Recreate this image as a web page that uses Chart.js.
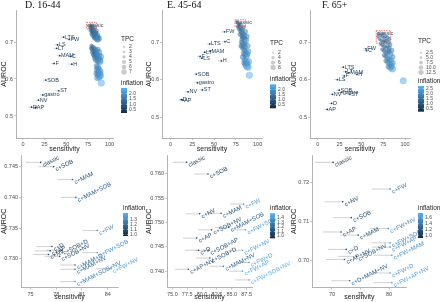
<!DOCTYPE html>
<html>
<head>
<meta charset="utf-8">
<script src="https://cdn.jsdelivr.net/npm/chart.js@4.4.1/dist/chart.umd.min.js"></script>
<style>
  html, body { margin: 0; padding: 0; background: #fff; }
  #wrap { position: relative; width: 440px; height: 302px; overflow: hidden; }
  .pane { position: absolute; }
  .pane canvas { display: block; }
  .ttl { position: absolute; font-family: "Liberation Serif", "DejaVu Serif", serif; font-size: 10px; line-height: 10px; color: #111; white-space: nowrap; }
</style>
</head>
<body>
<div id="wrap">
  <div class="pane" style="left:0;top:0;width:146px;height:156px"><canvas id="topD"></canvas></div>
  <div class="pane" style="left:145px;top:0;width:146px;height:156px"><canvas id="topE"></canvas></div>
  <div class="pane" style="left:290px;top:0;width:150px;height:156px"><canvas id="topF"></canvas></div>
  <div class="pane" style="left:0;top:150px;width:146px;height:152px"><canvas id="botD"></canvas></div>
  <div class="pane" style="left:145px;top:150px;width:146px;height:152px"><canvas id="botE"></canvas></div>
  <div class="pane" style="left:290px;top:150px;width:150px;height:152px"><canvas id="botF"></canvas></div>
  <div class="ttl" style="left:25px;top:0">D. 16-44</div>
  <div class="ttl" style="left:167px;top:0">E. 45-64</div>
  <div class="ttl" style="left:322px;top:0">F. 65+</div>
</div>
<script>
// ---------- top row : single tests ----------
const testsD = ['LTS', 'FW', 'LS', 'LT', 'MAM', 'C', 'F', 'H', 'SOB', 'ST', 'gastro', 'NV', 'D', 'AP'];
const testSensD = [47, 53.5, 40, 39, 42.5, 55, 36, 56.5, 26.5, 41.5, 23, 18, 10, 14.5];
const testAurocD = [0.713, 0.707, 0.692, 0.683, 0.663, 0.661, 0.642, 0.640, 0.597, 0.568, 0.557, 0.543, 0.524, 0.523];
const testInflD = [0.6, 0.7, 0.5, 0.5, 0.6, 0.7, 0.5, 0.6, 0.4, 0.5, 0.4, 0.4, 0.3, 0.3];

const testsE = ['FW', 'C', 'LTS', 'LT', 'MAM', 'F', 'LS', 'H', 'SOB', 'gastro', 'ST', 'NV', 'D', 'AP'];
const testSensE = [62, 62.5, 45, 39.3, 45.4, 34, 36, 58.4, 29.7, 31, 36.6, 20.2, 12.5, 14.2];
const testAurocE = [0.727, 0.701, 0.695, 0.673, 0.675, 0.662, 0.657, 0.650, 0.615, 0.592, 0.573, 0.568, 0.547, 0.546];
const testInflE = [0.7, 0.7, 0.6, 0.5, 0.6, 0.5, 0.5, 0.6, 0.4, 0.4, 0.5, 0.3, 0.3, 0.3];

const testsF = ['FW', 'C', 'LTS', 'LT', 'MAM', 'H', 'F', 'LS', 'SOB', 'gastro', 'NV', 'ST', 'D', 'AP'];
const testSensF = [55.3, 56, 29.5, 32.2, 35.8, 45, 30.5, 22.7, 24.7, 27.5, 17, 37, 16, 11];
const testAurocF = [0.682, 0.677, 0.633, 0.621, 0.618, 0.614, 0.610, 0.600, 0.572, 0.566, 0.561, 0.561, 0.537, 0.521];
const testInflF = [0.7, 0.7, 0.5, 0.5, 0.6, 0.6, 0.5, 0.4, 0.4, 0.4, 0.3, 0.5, 0.3, 0.3];

// ---------- top row : combinations (blue cloud) ----------
const clusterSensD = [77, 78.5, 80, 81.5, 79, 80.5, 82, 83.5, 81, 82.5, 84, 85.5, 83, 84.5, 86, 87, 78, 79.5,
  77.5, 79, 80.5, 82, 84, 86, 87.5, 85, 80, 82.5,
  79, 80.5, 82, 83.5, 80, 81.5, 83, 84.5, 86, 82, 84, 85.5, 87, 88.5, 86.5, 89, 85, 87.5,
  78.5, 80, 81.5, 83, 86.5, 88, 89.5, 84.5,
  85, 86.5, 87.5, 85.5, 87, 88.5, 86.5, 88, 89, 84.5, 89.5, 86, 90.5];
const clusterAurocD = [0.745, 0.742, 0.739, 0.735, 0.736, 0.732, 0.728, 0.724, 0.726, 0.721, 0.717, 0.713, 0.714, 0.710, 0.707, 0.712, 0.731, 0.727,
  0.738, 0.722, 0.718, 0.712, 0.724, 0.719, 0.709, 0.730, 0.745, 0.739,
  0.690, 0.687, 0.684, 0.680, 0.680, 0.676, 0.672, 0.668, 0.664, 0.667, 0.662, 0.658, 0.655, 0.651, 0.649, 0.647, 0.675, 0.662,
  0.683, 0.672, 0.664, 0.657, 0.680, 0.672, 0.660, 0.652,
  0.636, 0.632, 0.627, 0.625, 0.619, 0.614, 0.611, 0.606, 0.620, 0.615, 0.609, 0.603, 0.589];
const clusterTpcD = [2, 3, 3, 3, 4, 4, 4, 5, 4, 5, 5, 6, 5, 6, 6, 5, 3, 3,
  3, 3, 4, 4, 5, 5, 6, 4, 3, 4,
  3, 4, 4, 5, 4, 4, 5, 5, 6, 5, 5, 6, 6, 7, 6, 7, 5, 6,
  3, 4, 4, 5, 5, 6, 7, 6,
  5, 6, 6, 6, 6, 7, 6, 7, 7, 5, 7, 6, 7];
const clusterInflD = [1.0, 1.1, 1.2, 1.3, 1.2, 1.3, 1.4, 1.5, 1.3, 1.4, 1.6, 1.7, 1.5, 1.6, 1.8, 1.7, 1.1, 1.2,
  1.1, 1.2, 1.3, 1.4, 1.5, 1.6, 1.8, 1.4, 1.1, 1.3,
  1.2, 1.3, 1.4, 1.5, 1.3, 1.4, 1.5, 1.6, 1.7, 1.5, 1.6, 1.7, 1.8, 1.9, 1.8, 2.0, 1.6, 1.8,
  1.2, 1.3, 1.4, 1.5, 1.6, 1.8, 1.9, 1.7,
  1.7, 1.8, 1.9, 1.8, 1.9, 2.0, 1.9, 2.1, 2.0, 1.7, 2.1, 1.9, 2.4];

const clusterSensE = [76, 77.5, 79, 80.5, 78, 79.5, 81, 82.5, 80, 81.5, 83, 84.5, 82, 83.5, 85, 86.5,
  77, 78.5, 84, 86, 79.5, 87.5, 82, 85.5,
  81, 82.5, 84, 85.5, 82, 83.5, 85, 86.5, 84, 85.5, 87, 88,
  80.5, 88.5, 83, 89,
  85, 86.5, 88, 86, 87.5, 89, 84.5, 89.5, 90.5];
const clusterAurocE = [0.754, 0.751, 0.748, 0.745, 0.744, 0.740, 0.736, 0.732, 0.730, 0.726, 0.722, 0.718, 0.716, 0.712, 0.708, 0.704,
  0.740, 0.734, 0.740, 0.728, 0.720, 0.715, 0.708, 0.696,
  0.700, 0.696, 0.692, 0.688, 0.686, 0.682, 0.678, 0.674, 0.670, 0.666, 0.662, 0.668,
  0.690, 0.690, 0.660, 0.675,
  0.652, 0.648, 0.644, 0.640, 0.636, 0.633, 0.645, 0.648, 0.612];
const clusterTpcE = [2, 3, 3, 4, 3, 4, 4, 5, 4, 5, 5, 6, 5, 6, 6, 7,
  3, 3, 4, 5, 4, 6, 5, 5,
  4, 5, 5, 6, 5, 5, 6, 6, 6, 6, 7, 7,
  4, 6, 6, 7,
  6, 7, 7, 7, 8, 8, 6, 8, 8];
const clusterInflE = [1.0, 1.1, 1.2, 1.2, 1.1, 1.2, 1.3, 1.4, 1.3, 1.4, 1.5, 1.6, 1.4, 1.5, 1.7, 1.8,
  1.1, 1.2, 1.3, 1.5, 1.3, 1.7, 1.4, 1.7,
  1.4, 1.5, 1.6, 1.7, 1.5, 1.6, 1.7, 1.8, 1.7, 1.8, 1.9, 1.9,
  1.4, 1.8, 1.6, 1.9,
  1.8, 1.9, 2.0, 1.9, 2.1, 2.2, 1.8, 2.1, 2.5];

const clusterSensF = [70, 72, 74, 76, 78, 80, 71, 73, 75, 77, 79, 81, 74, 76, 78, 80, 82, 76, 78, 80, 82, 84,
  78, 80, 82, 84, 80, 82, 84, 85, 83, 85.5,
  69, 75, 82, 72, 83, 74, 85, 76, 86, 78, 86, 81, 77, 81, 98];
const clusterAurocF = [0.722, 0.718, 0.715, 0.712, 0.716, 0.712, 0.708, 0.704, 0.701, 0.698, 0.703, 0.699,
  0.692, 0.688, 0.685, 0.689, 0.684, 0.677, 0.673, 0.670, 0.674, 0.668,
  0.662, 0.658, 0.655, 0.652, 0.647, 0.643, 0.640, 0.635, 0.632, 0.628,
  0.714, 0.722, 0.708, 0.695, 0.693, 0.680, 0.678, 0.665, 0.660, 0.650, 0.645, 0.635, 0.705, 0.678, 0.597];
const clusterTpcF = [3, 3, 4, 4, 4, 5, 4, 4, 5, 5, 5, 6, 5, 6, 6, 6, 7, 6, 7, 7, 7, 8,
  7, 8, 8, 9, 8, 9, 10, 10, 11, 12,
  3, 3, 5, 4, 6, 5, 7, 6, 8, 7, 9, 9, 4, 6, 12];
const clusterInflF = [1.0, 1.1, 1.2, 1.2, 1.3, 1.3, 1.1, 1.2, 1.3, 1.4, 1.4, 1.5, 1.3, 1.4, 1.5, 1.6, 1.6,
  1.5, 1.6, 1.7, 1.7, 1.8, 1.7, 1.8, 1.9, 2.0, 1.9, 2.0, 2.1, 2.2, 2.1, 2.3,
  1.0, 1.2, 1.4, 1.2, 1.6, 1.4, 1.8, 1.5, 2.0, 1.7, 2.1, 2.0, 1.3, 1.6, 2.6];

// red dashed frame round "classic" : [sens lo, sens hi, auroc lo, auroc hi]
const classicBoxD = [73.5, 85, 0.735, 0.753];
const classicBoxE = [74, 86, 0.741, 0.759];
const classicBoxF = [67, 83.6, 0.697, 0.730];

// ---------- bottom row : zoom on best combinations ----------
const combosD = ['classic', 'c+SOB', 'c+MAM', 'c+MAM+SOB', 'c+FW', 'c+D', 'c+AP', 'c+NV', 'c+SOB+D', 'c+SOB+NV',
  'c+MAM+D', 'c+MAM+NV', 'c+FW+SOB', 'c+MAM+SOB+NV', 'c+FW+NV'];
const comboSensD = [76.2, 77.7, 79.9, 80.3, 82.8, 77.5, 77.3, 77.1, 78.6, 78.4, 80.2, 80.2, 82.8, 80.2, 84.4];
const comboAurocD = [0.7457, 0.7450, 0.7429, 0.7400, 0.7346, 0.7320, 0.7313, 0.7307, 0.7314, 0.7304, 0.7290, 0.7283, 0.7310, 0.7263, 0.7284];
const comboInflD = [1.00, 1.04, 1.12, 1.15, 1.28, 1.02, 1.03, 1.03, 1.07, 1.08, 1.17, 1.18, 1.31, 1.25, 1.38];

const combosE = ['classic', 'c+SOB', 'c+FW', 'c+NV', 'c+MAM', 'c+SOB+NV', 'c+MAM+SOB', 'c+FW+SOB', 'c+AP', 'c+D',
  'c+SOB+AP', 'c+MAM+NV', 'c+FW+NV', 'c+SOB+D', 'c+AP+NV', 'c+FW+D', 'c+FW+AP', 'c+FW+SOB+NV'];
const comboSensE = [77.4, 81, 87.0, 79.6, 83.2, 81.6, 84.5, 87.3, 79.1, 79.4, 81.1, 83.6, 86.8, 81.3, 77.7, 87.9, 86.8, 87.9];
const comboAurocE = [0.7624, 0.7600, 0.7538, 0.7518, 0.7519, 0.7485, 0.7490, 0.7485, 0.7468, 0.7443, 0.7443, 0.7410, 0.7443, 0.7427, 0.7404, 0.7418, 0.7400, 0.7382];
const comboInflE = [1.00, 1.05, 1.38, 1.05, 1.14, 1.10, 1.18, 1.42, 1.04, 1.04, 1.09, 1.20, 1.43, 1.10, 1.08, 1.44, 1.45, 1.50];

const combosF = ['classic', 'c+FW', 'c+NV', 'c+SOB', 'c+AP', 'c+MAM', 'c+FW+NV', 'c+FW+SOB', 'c+FW+AP', 'c+D',
  'c+AP+NV', 'c+SOB+NV', 'c+FW+MAM', 'c+D+MAM+NV', 'c+FW+D', 'c+FW+AP+NV'];
const comboSensF = [70.2, 80.2, 71.9, 73.4, 71.6, 74.6, 79.9, 80.2, 80.2, 72.5, 72.2, 74.3, 80.5, 73.1, 80.2, 80.5];
const comboAurocF = [0.7253, 0.7184, 0.7151, 0.7110, 0.7073, 0.7065, 0.7082, 0.7045, 0.7034, 0.7028, 0.7002, 0.7010, 0.7013, 0.6947, 0.6967, 0.6942];
const comboInflF = [1.00, 1.40, 1.05, 1.10, 1.06, 1.15, 1.50, 1.52, 1.53, 1.06, 1.12, 1.18, 1.58, 1.25, 1.60, 1.70];

// ---------- ticks and legend keys ----------
const sensTicksTop = [0, 25, 50, 75, 100];
const aurocTicksTop = [0.5, 0.6, 0.7];
const sensTicksD = [75, 78, 81, 84];
const aurocTicksD = [0.730, 0.735, 0.740, 0.745];
const sensTicksE = [75, 77.5, 80, 82.5, 85, 87.5];
const aurocTicksE = [0.740, 0.745, 0.750, 0.755, 0.760];
const sensTicksF = [70, 75, 80];
const aurocTicksF = [0.70, 0.71, 0.72];

const tpcKeysD = [2, 3, 4, 5, 6, 7];
const tpcKeysE = [2, 4, 6, 8];
const tpcKeysF = [2.5, 5.0, 7.5, 10.0, 12.5];
const inflKeysTopD = [0.5, 1.0, 1.5, 2.0];
const inflKeysTopE = [0.5, 1.0, 1.5, 2.0];
const inflKeysTopF = [0.5, 1.0, 1.5, 2.0, 2.5];
const inflKeysBotD = [1.0, 1.1, 1.2, 1.3];
const inflKeysBotE = [1.0, 1.1, 1.2, 1.3, 1.4];
const inflKeysBotF = [1.0, 1.2, 1.4, 1.6];

// ---------- helpers ----------
const FONT = '"Liberation Sans", Arial, sans-serif';
const LOW = [19, 43, 67];     // ggplot default gradient
const HIGH = [86, 177, 247];

function shade(v, lo, hi, a) {
  const t = Math.max(0, Math.min(1, (v - lo) / (hi - lo)));
  const c = LOW.map((l, i) => Math.round(l + (HIGH[i] - l) * t));
  return `rgba(${c[0]},${c[1]},${c[2]},${a})`;
}

function axis(min, max, ticks, dec, title, fit, isX, titlePad) {
  return {
    type: 'linear', min, max,
    afterBuildTicks: s => { s.ticks = ticks.map(v => ({ value: v })); },
    afterFit: s => { if (isX) s.height = fit; else s.width = fit; },
    ticks: {
      font: { size: 5.5, family: FONT }, color: '#4d4d4d', padding: 1,
      autoSkip: false, maxRotation: 0, callback: v => Number(v).toFixed(dec)
    },
    grid: { drawOnChartArea: false, drawTicks: true, tickLength: 2, color: '#8c8c8c', lineWidth: 0.5 },
    border: { display: true, color: '#a0a0a0', width: 0.8 },
    title: {
      display: true, text: title, color: '#222',
      font: { size: 7, family: FONT },
      padding: isX ? { top: 0, bottom: titlePad } : 0
    }
  };
}

function pts(xs, ys) { return xs.map((x, i) => ({ x, y: ys[i] })); }

// per panel drawing: whiskers, text labels, classic frame, legends
function panelPlugin(p) {
  return {
    id: 'panel',
    beforeDatasetsDraw(chart) {
      const { ctx } = chart;
      const xs = chart.scales.x;
      ctx.save();
      ctx.lineWidth = 0.8;
      ctx.strokeStyle = 'rgba(170,170,170,0.7)';
      chart.data.datasets.forEach((ds, di) => {
        if (!ds.names) return;
        chart.getDatasetMeta(di).data.forEach((el, i) => {
          const x0 = xs.getPixelForValue(ds.data[i].x - p.ci);
          ctx.beginPath(); ctx.moveTo(x0, el.y); ctx.lineTo(el.x, el.y); ctx.stroke();
        });
      });
      ctx.restore();
    },
    afterDatasetsDraw(chart) {
      const { ctx } = chart;
      const xs = chart.scales.x, ys = chart.scales.y;
      ctx.save();
      chart.data.datasets.forEach((ds, di) => {
        if (!ds.names) return;
        chart.getDatasetMeta(di).data.forEach((el, i) => {
          ctx.fillStyle = shade(ds.infl[i], p.lo, p.hi, 1);
          if (p.angle) {
            ctx.save();
            ctx.translate(el.x + 0.8, el.y + 0.5);
            ctx.rotate(-p.angle * Math.PI / 180);
            ctx.font = `6px ${FONT}`;
            ctx.textAlign = 'left'; ctx.textBaseline = 'top';
            ctx.fillText(ds.names[i], 0, 0);
            ctx.restore();
          } else {
            ctx.font = `5.5px ${FONT}`;
            ctx.textAlign = 'left'; ctx.textBaseline = 'middle';
            ctx.fillText(ds.names[i], el.x + 1.3, el.y);
          }
        });
      });
      if (p.box) {
        const bx0 = xs.getPixelForValue(p.box[0]), bx1 = xs.getPixelForValue(p.box[1]);
        const by0 = ys.getPixelForValue(p.box[3]), by1 = ys.getPixelForValue(p.box[2]);
        ctx.setLineDash([1.5, 1]);
        ctx.strokeStyle = '#e0413a'; ctx.lineWidth = 0.7;
        ctx.strokeRect(bx0, by0, bx1 - bx0, by1 - by0);
        ctx.setLineDash([]);
        ctx.fillStyle = '#4a5566';
        ctx.font = `5.5px ${FONT}`;
        ctx.textAlign = 'left'; ctx.textBaseline = 'top';
        ctx.fillText('classic', bx0 + 0.5, by0 + 0.3);
      }
      const L = p.legend;
      ctx.textAlign = 'left'; ctx.textBaseline = 'middle';
      if (L.tpc) {
        ctx.fillStyle = '#222'; ctx.font = `6.5px ${FONT}`;
        ctx.fillText('TPC', L.x, L.tpcY);
        L.tpc.forEach((t, i) => {
          const y = L.tpcY0 + i * L.tpcStep;
          ctx.beginPath();
          ctx.arc(L.x + 3, y, p.radius(t) * 0.8, 0, Math.PI * 2);
          ctx.fillStyle = 'rgba(150,150,150,0.5)'; ctx.fill();
          ctx.fillStyle = '#4d4d4d'; ctx.font = `5px ${FONT}`;
          ctx.fillText(t.toFixed(L.tpcDec), L.x + 8, y);
        });
      }
      ctx.fillStyle = '#222'; ctx.font = `6.5px ${FONT}`;
      ctx.fillText('inflation', L.x, L.inflY);
      const g = ctx.createLinearGradient(0, L.barTop, 0, L.barTop + L.barH);
      g.addColorStop(0, shade(p.hi, p.lo, p.hi, 1));
      g.addColorStop(1, shade(p.lo, p.lo, p.hi, 1));
      ctx.fillStyle = g;
      ctx.fillRect(L.x, L.barTop, L.barW, L.barH);
      ctx.font = `5px ${FONT}`;
      L.infl.forEach(v => {
        const y = L.barTop + L.barH - (v - p.lo) / (p.hi - p.lo) * L.barH;
        ctx.strokeStyle = '#fff'; ctx.lineWidth = 0.5;
        ctx.beginPath(); ctx.moveTo(L.x, y); ctx.lineTo(L.x + 1.2, y);
        ctx.moveTo(L.x + L.barW - 1.2, y); ctx.lineTo(L.x + L.barW, y); ctx.stroke();
        ctx.fillStyle = '#4d4d4d';
        ctx.fillText(v.toFixed(1), L.x + L.barW + 2, y);
      });
      ctx.restore();
    }
  };
}

function topPanel(id, o) {
  const radius = t => 1.3 + 2.0 * (t - o.tpcMin) / (o.tpcMax - o.tpcMin);
  const p = { ci: 3.5, lo: o.lo, hi: o.hi, box: o.box, legend: o.legend, radius };
  new Chart(document.getElementById(id), {
    type: 'scatter',
    data: {
      datasets: [
        {
          data: pts(o.cSens, o.cAuroc),
          pointRadius: o.cTpc.map(radius),
          backgroundColor: o.cInfl.map(v => shade(v, o.lo, o.hi, 0.5)),
          borderColor: o.cInfl.map(v => shade(v, o.lo, o.hi, 0.65)),
          borderWidth: 0.4
        },
        {
          data: pts(o.tSens, o.tAuroc),
          names: o.tests, infl: o.tInfl,
          pointRadius: 0.9, borderWidth: 0,
          backgroundColor: o.tInfl.map(v => shade(v, o.lo, o.hi, 1))
        }
      ]
    },
    options: {
      responsive: true, maintainAspectRatio: false, animation: false,
      layout: { padding: { left: 0, top: 10, right: o.padR, bottom: 0 } },
      plugins: { legend: { display: false }, tooltip: { enabled: false } },
      scales: {
        x: axis(o.xr[0], o.xr[1], sensTicksTop, 0, 'sensitivity', 18, true, 2.3),
        y: axis(o.yr[0], o.yr[1], aurocTicksTop, 1, 'AUROC', o.yFit, false)
      }
    },
    plugins: [panelPlugin(p)]
  });
}

function bottomPanel(id, o) {
  const p = { ci: o.ci, lo: o.lo, hi: o.hi, angle: 27, legend: o.legend };
  new Chart(document.getElementById(id), {
    type: 'scatter',
    data: {
      datasets: [{
        data: pts(o.sens, o.auroc),
        names: o.names, infl: o.infl,
        pointRadius: 0.8, borderWidth: 0,
        backgroundColor: o.infl.map(v => shade(v, o.lo, o.hi, 1))
      }]
    },
    options: {
      responsive: true, maintainAspectRatio: false, animation: false,
      layout: { padding: { left: 0, top: 5, right: o.padR, bottom: 0 } },
      plugins: { legend: { display: false }, tooltip: { enabled: false } },
      scales: {
        x: axis(o.xr[0], o.xr[1], o.xt, o.xDec, 'sensitivity', 14.3, true, 1.1),
        y: axis(o.yr[0], o.yr[1], o.yt, o.yDec, 'AUROC', o.yFit, false)
      }
    },
    plugins: [panelPlugin(p)]
  });
}

// ---------- top row ----------
topPanel('topD', {
  tests: testsD, tSens: testSensD, tAuroc: testAurocD, tInfl: testInflD,
  cSens: clusterSensD, cAuroc: clusterAurocD, cTpc: clusterTpcD, cInfl: clusterInflD,
  tpcMin: 2, tpcMax: 7, lo: 0.2, hi: 2.5, box: classicBoxD,
  xr: [-8, 104], yr: [0.4405, 0.7865], yFit: 16, padR: 33,
  legend: { x: 121, tpc: tpcKeysD, tpcDec: 0, tpcY: 39, tpcY0: 47, tpcStep: 5, inflY: 83, barTop: 88, barH: 25, barW: 6, infl: inflKeysTopD }
});
topPanel('topE', {
  tests: testsE, tSens: testSensE, tAuroc: testAurocE, tInfl: testInflE,
  cSens: clusterSensE, cAuroc: clusterAurocE, cTpc: clusterTpcE, cInfl: clusterInflE,
  tpcMin: 2, tpcMax: 8, lo: 0.15, hi: 2.5, box: classicBoxE,
  xr: [-9.8, 105], yr: [0.4454, 0.785], yFit: 17, padR: 29,
  legend: { x: 125, tpc: tpcKeysE, tpcDec: 0, tpcY: 43.3, tpcY0: 52.7, tpcStep: 4.9, inflY: 79, barTop: 84.3, barH: 24, barW: 6, infl: inflKeysTopE }
});
topPanel('topF', {
  tests: testsF, tSens: testSensF, tAuroc: testAurocF, tInfl: testInflF,
  cSens: clusterSensF, cAuroc: clusterAurocF, cTpc: clusterTpcF, cInfl: clusterInflF,
  tpcMin: 2.5, tpcMax: 12.5, lo: 0.2, hi: 2.75, box: classicBoxF,
  xr: [-8.8, 105.7], yr: [0.445, 0.785], yFit: 20, padR: 30,
  legend: { x: 128, tpc: tpcKeysF, tpcDec: 1, tpcY: 41.7, tpcY0: 52.7, tpcStep: 4.9, inflY: 81, barTop: 86, barH: 25.7, barW: 6, infl: inflKeysTopF }
});

// ---------- bottom row ----------
bottomPanel('botD', {
  names: combosD, sens: comboSensD, auroc: comboAurocD, infl: comboInflD,
  ci: 1.75, lo: 0.97, hi: 1.42,
  xr: [73.9, 85.2], yr: [0.7253, 0.7469], xt: sensTicksD, yt: aurocTicksD, xDec: 0, yDec: 3,
  yFit: 21, padR: 28,
  legend: { x: 123, inflY: 58, barTop: 63, barH: 23, barW: 5, infl: inflKeysBotD }
});
bottomPanel('botE', {
  names: combosE, sens: comboSensE, auroc: comboAurocE, infl: comboInflE,
  ci: 2.3, lo: 0.95, hi: 1.5,
  xr: [74.1, 88.4], yr: [0.7366, 0.7639], xt: sensTicksE, yt: aurocTicksE, xDec: 1, yDec: 3,
  yFit: 22, padR: 39,
  legend: { x: 125, inflY: 58, barTop: 63.3, barH: 25, barW: 5, infl: inflKeysBotE }
});
bottomPanel('botF', {
  names: combosF, sens: comboSensF, auroc: comboAurocF, infl: comboInflF,
  ci: 3.2, lo: 0.9, hi: 1.78,
  xr: [66.5, 83.1], yr: [0.6929, 0.7272], xt: sensTicksF, yt: aurocTicksF, xDec: 0, yDec: 2,
  yFit: 22, padR: 33.3,
  legend: { x: 128, inflY: 58, barTop: 63, barH: 25, barW: 5, infl: inflKeysBotF }
});
</script>
</body>
</html>
